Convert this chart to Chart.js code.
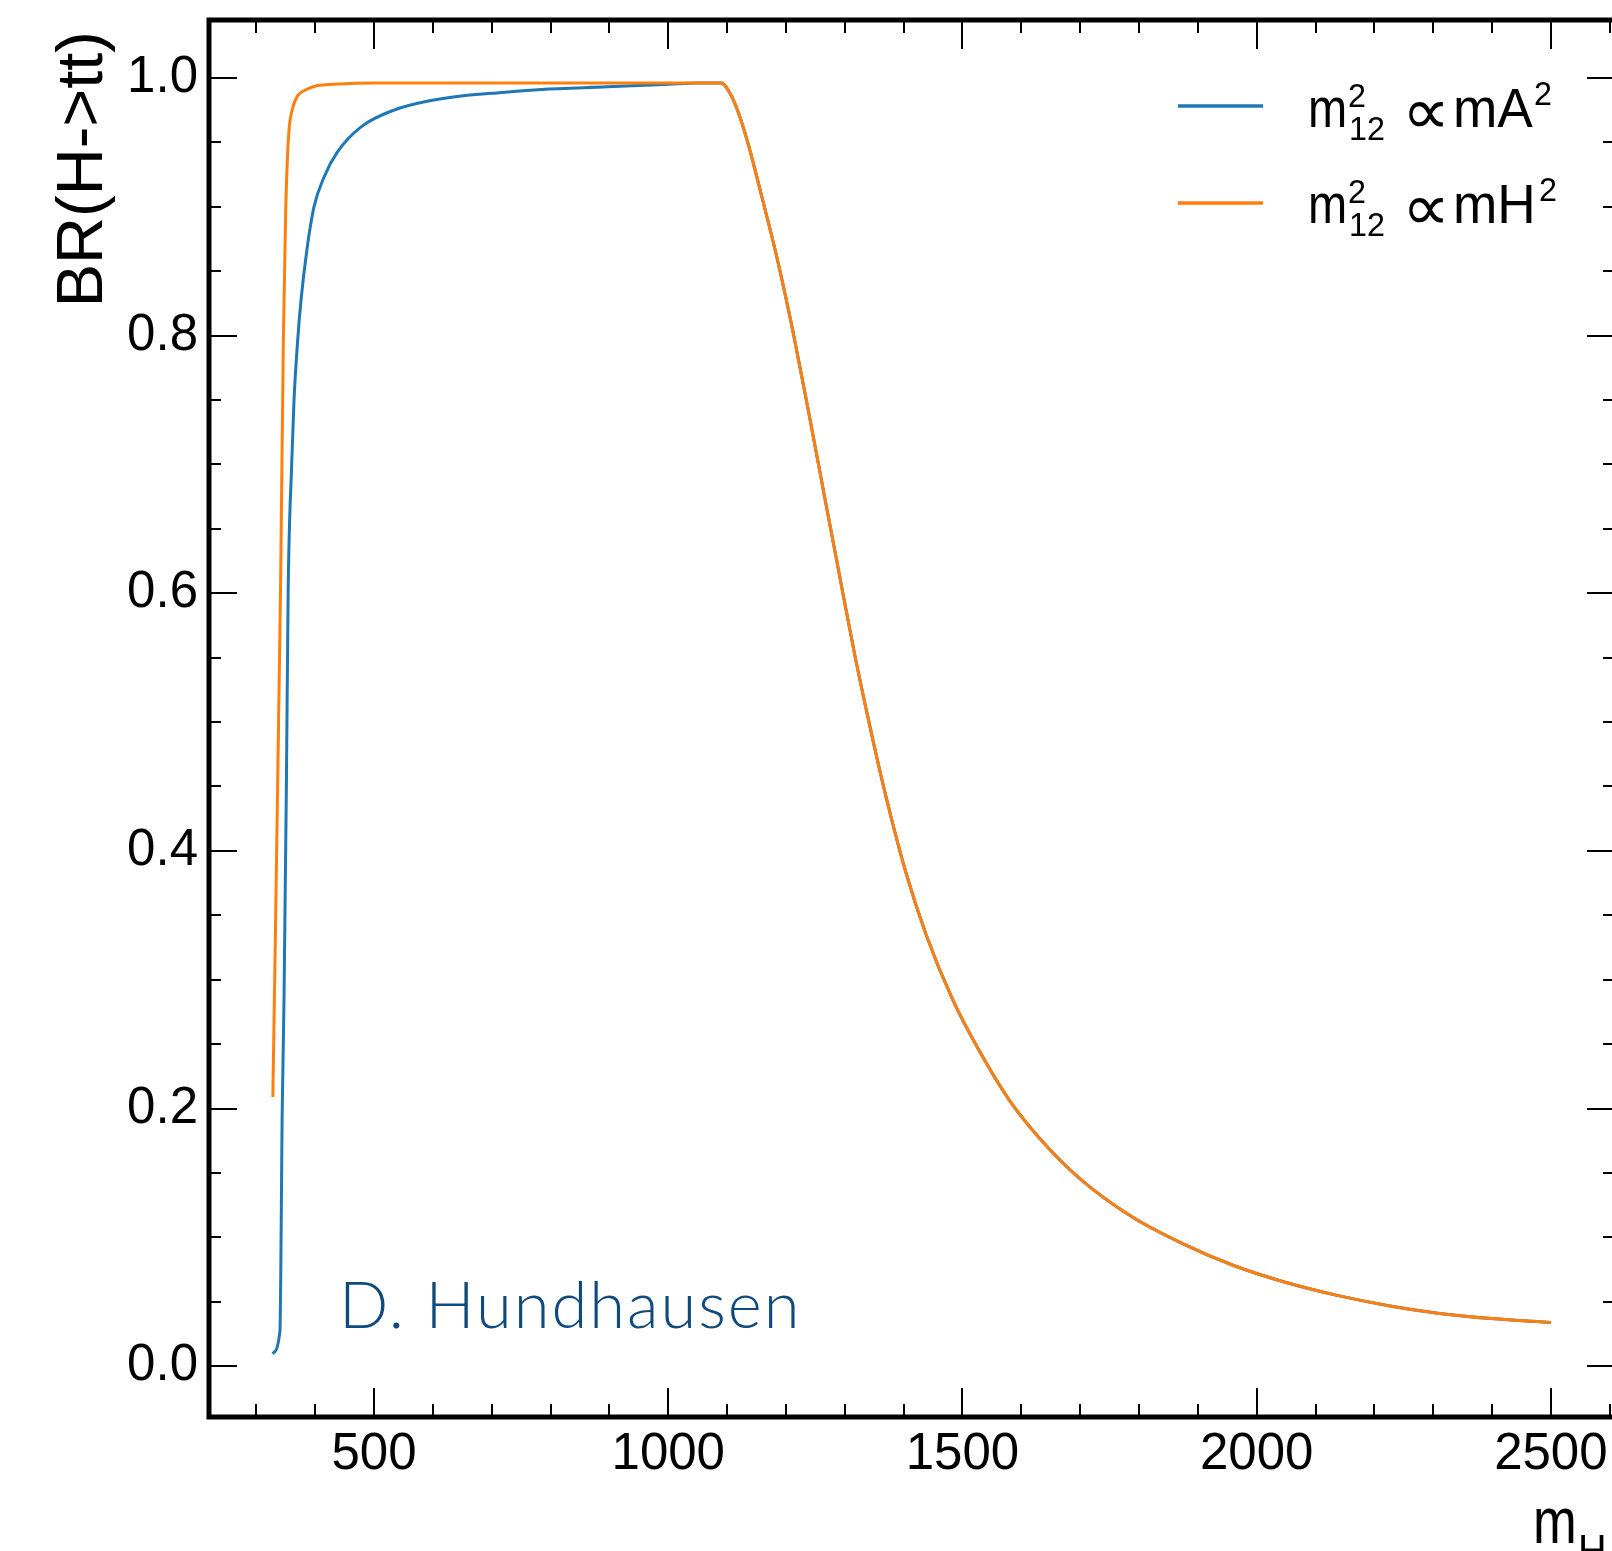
<!DOCTYPE html>
<html><head><meta charset="utf-8">
<script src="https://cdn.jsdelivr.net/npm/chart.js@4.4.0/dist/chart.umd.min.js"></script>
<style>
html,body{margin:0;padding:0;background:#fff;overflow:hidden;width:1612px;height:1551px}
canvas{display:block}
</style></head>
<body>
<canvas id="c" width="1640" height="1551" style="width:1640px;height:1551px"></canvas>
<script>
// ---- data ----
const seriesLabels = ['m12^2 ∝ mA^2', 'm12^2 ∝ mH^2'];
const seriesColors = ['#1f77b4', '#ff7f0e'];

// rising part, m12^2 ∝ mA^2
const riseA_x = [327, 340, 344, 347, 351, 354, 360, 364, 370, 376, 386, 398, 415, 437, 478, 534, 592, 648, 700, 784, 897, 1000, 1050];
const riseA_y = [0.010, 0.027, 0.20, 0.285, 0.45, 0.60, 0.70, 0.75, 0.795, 0.828, 0.867, 0.900, 0.923, 0.942, 0.962, 0.975, 0.982, 0.986, 0.988, 0.991, 0.993, 0.995, 0.996];

// rising part, m12^2 ∝ mH^2
const riseH_x = [328, 341, 346, 350, 353, 356, 362, 370, 381, 404, 432, 500, 600, 800, 1000, 1050];
const riseH_y = [0.209, 0.60, 0.80, 0.90, 0.94, 0.962, 0.977, 0.986, 0.990, 0.994, 0.995, 0.996, 0.996, 0.996, 0.996, 0.996];

// common falling part
const fall_x = [1090, 1105, 1120, 1135, 1160, 1186, 1212, 1238, 1264, 1291, 1317, 1343, 1369, 1404, 1439, 1483, 1526, 1579, 1631, 1701, 1788, 1875, 1962, 2050, 2137, 2224, 2311, 2399, 2500];
const fall_y = [0.996, 0.988, 0.972, 0.950, 0.906, 0.858, 0.803, 0.742, 0.679, 0.614, 0.552, 0.496, 0.444, 0.383, 0.334, 0.285, 0.247, 0.207, 0.177, 0.145, 0.116, 0.095, 0.078, 0.065, 0.055, 0.047, 0.041, 0.037, 0.034];

const xTickValues = [500, 1000, 1500, 2000, 2500];
const yTickValues = [0.0, 0.2, 0.4, 0.6, 0.8, 1.0];
const yTitle = 'BR(H->tt)';
const xTitleMain = 'm';
const xTitleSub = 'H';
const authorText = 'D. Hundhausen';

// ---- build ----
function toPts(xs, ys) { return xs.map((x, i) => ({x: x, y: ys[i]})); }
const dataA = toPts(riseA_x.concat(fall_x), riseA_y.concat(fall_y));
const dataH = toPts(riseH_x.concat(fall_x), riseH_y.concat(fall_y));

const FONT = "'Liberation Sans', Arial, Helvetica, sans-serif";
Chart.defaults.font.family = FONT;
Chart.defaults.color = '#000';

const frameTicks = {
  id: 'frameTicks',
  afterDatasetsDraw(chart) {
    const {ctx, chartArea: a, scales: {x, y}} = chart;
    ctx.save();
    ctx.strokeStyle = '#000';
    ctx.lineWidth = 2;
    ctx.beginPath();
    for (let v = 300; v <= 2600; v += 100) {
      const px = Math.round(x.getPixelForValue(v));
      const L = xTickValues.includes(v) ? 29 : 13;
      ctx.moveTo(px, a.bottom); ctx.lineTo(px, a.bottom - L);
      ctx.moveTo(px, a.top); ctx.lineTo(px, a.top + L);
    }
    for (let i = 0; i <= 20; i++) {
      const py = Math.round(y.getPixelForValue(i * 0.05));
      const L = (i % 4 === 0) ? 28 : 12;
      ctx.moveTo(a.left, py); ctx.lineTo(a.left + L, py);
      ctx.moveTo(a.right, py); ctx.lineTo(a.right - L, py);
    }
    ctx.stroke();
    ctx.lineWidth = 5;
    ctx.strokeRect(a.left, a.top, a.right - a.left, a.bottom - a.top);
    ctx.restore();
  }
};

const textExtras = {
  id: 'textExtras',
  afterDraw(chart) {
    const ctx = chart.ctx;
    ctx.save();
    const ds = chart.data.datasets;
    const entries = [
      {ds: ds[0], lineY: 106, base: 127, last: 'A', supX: 1534},
      {ds: ds[1], lineY: 203, base: 223, last: 'H', supX: 1539}
    ];
    function piece(txt, x, yb, font, sx) {
      ctx.save();
      ctx.translate(x, yb);
      ctx.scale(sx, 1);
      ctx.font = font;
      ctx.fillText(txt, 0, 0);
      ctx.restore();
    }
    ctx.fillStyle = '#000';
    ctx.textBaseline = 'alphabetic';
    ctx.textAlign = 'left';
    entries.forEach(e => {
      ctx.strokeStyle = e.ds.borderColor;
      ctx.lineWidth = 3.3;
      ctx.beginPath();
      ctx.moveTo(1178, e.lineY); ctx.lineTo(1263, e.lineY);
      ctx.stroke();
      const b = e.base;
      piece('m', 1308, b, '56px ' + FONT, 0.84);
      piece('2', 1348, b - 20, '34px ' + FONT, 0.95);
      piece('12', 1349, b + 13, '34px ' + FONT, 0.95);
      piece('\u221D', 1402, b + 7, "66px 'DejaVu Sans'", 1.02);
      piece('m' + e.last, 1453, b, '56px ' + FONT, 0.95);
      piece('2', e.supX, b - 22, '34px ' + FONT, 0.95);
    });
    // y axis title
    ctx.save();
    ctx.translate(102, 31);
    ctx.rotate(-Math.PI / 2);
    ctx.textAlign = 'right';
    ctx.font = '65px ' + FONT;
    ctx.fillText(yTitle, 0, 0);
    ctx.restore();
    // x axis title (cut by the page edge, as in the reference)
    piece(xTitleMain, 1533, 1543, '64px ' + FONT, 0.82);
    piece(xTitleSub, 1578, 1566, '44px ' + FONT, 0.9);
    // author
    ctx.fillStyle = '#0f4a7e';
    ctx.font = '300 65px Lato, ' + FONT;
    try { ctx.letterSpacing = '2px'; } catch (err) {}
    ctx.fillText(authorText, 339, 1328);
    ctx.restore();
  }
};

new Chart(document.getElementById('c'), {
  type: 'line',
  data: {
    datasets: [
      {label: seriesLabels[0], data: dataA, borderColor: seriesColors[0], backgroundColor: seriesColors[0],
       borderWidth: 3, pointRadius: 0, fill: false, cubicInterpolationMode: 'monotone', order: 1},
      {label: seriesLabels[1], data: dataH, borderColor: seriesColors[1], backgroundColor: seriesColors[1],
       borderWidth: 3, pointRadius: 0, fill: false, cubicInterpolationMode: 'monotone', order: 0}
    ]
  },
  options: {
    responsive: false,
    devicePixelRatio: 1,
    animation: false,
    events: [],
    layout: {autoPadding: false, padding: {left: 0, top: 20, right: 25, bottom: 0}},
    plugins: {legend: {display: false}, tooltip: {enabled: false}},
    scales: {
      x: {
        type: 'linear', min: 219.5, max: 2609,
        grid: {display: false, drawTicks: false}, border: {display: false},
        afterBuildTicks: s => { s.ticks = xTickValues.map(v => ({value: v})); },
        afterFit: s => { s.height = 134; s.paddingLeft = 0; s.paddingRight = 0; },
        ticks: {font: {size: 51}, padding: 7, maxRotation: 0, autoSkip: false, callback: v => String(v)}
      },
      y: {
        type: 'linear', min: -0.0394, max: 1.0449,
        grid: {display: false, drawTicks: false}, border: {display: false},
        afterBuildTicks: s => { s.ticks = yTickValues.map(v => ({value: v})); },
        afterFit: s => { s.width = 209; s.paddingTop = 0; s.paddingBottom = 0; },
        ticks: {font: {size: 51}, padding: 11, autoSkip: false, callback: v => Number(v).toFixed(1)},
        title: {display: false, text: yTitle}
      }
    }
  },
  plugins: [frameTicks, textExtras]
});
</script>
</body></html>
